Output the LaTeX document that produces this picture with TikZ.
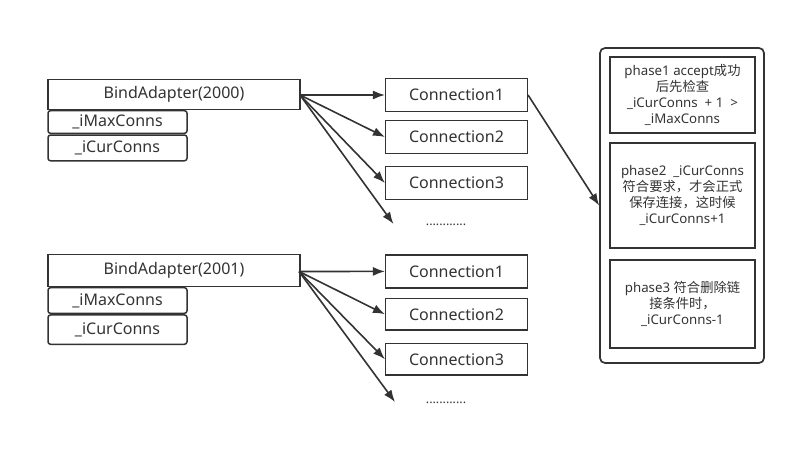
\documentclass[tikz,border=0pt]{standalone}
\usepackage{fontspec}
\setmainfont{Noto Sans}
\newfontfamily\cjk{Noto Sans CJK SC}
\usetikzlibrary{arrows.meta}
\definecolor{ink}{HTML}{333333}
\tikzset{
  cbox/.style={draw=ink, line width=1.5pt, fill=white, text=ink, inner sep=0pt, font=\fontsize{16}{18}\selectfont},
  rbox/.style={cbox, rounded corners=2.5pt},
  pbox/.style={draw=ink, line width=1.5pt, text=ink, inner sep=0pt, align=center, font=\fontsize{13.3}{16}\selectfont},
  arr/.style={draw=ink, line width=1.6pt, -{Latex[length=12pt,width=9pt]}},
  dots/.style={text=ink, inner sep=0pt, font=\fontsize{12.5}{14}\selectfont}
}
\begin{document}
\begin{tikzpicture}[x=1pt,y=-1pt]
\useasboundingbox (0,0) rectangle (797,451);
% group 1
\node[cbox, minimum width=252pt, minimum height=30pt] (ba1) at (174,94.3) {BindAdapter(2000)};
\node[rbox, minimum width=139pt, minimum height=22.6pt] (mx1) at (117.5,122) {\_iMaxConns};
\node[rbox, minimum width=139pt, minimum height=25.7pt] (cu1) at (117.5,147.9) {\_iCurConns};
\node[cbox, minimum width=141.6pt, minimum height=33.4pt] (a1) at (456.5,95) {Connection1};
\node[cbox, minimum width=141.6pt, minimum height=32.6pt] (a2) at (456.5,137) {Connection2};
\node[cbox, minimum width=141.6pt, minimum height=32.6pt] (a3) at (456.5,183) {Connection3};
\node[dots] (ad) at (446,225) {............};
\coordinate (ae) at (393.5,224);
\coordinate (as) at (300,95);
\draw[arr] (as) -- (a1.west);
\draw[arr] (as) -- (a2.west);
\draw[arr] (as) -- (a3.west);
\draw[arr] (as) -- (ae);
% group 2
\node[cbox, minimum width=252pt, minimum height=32.4pt] (ba2) at (174,270.5) {BindAdapter(2001)};
\node[rbox, minimum width=139pt, minimum height=25.6pt] (mx2) at (117.5,300.5) {\_iMaxConns};
\node[rbox, minimum width=139pt, minimum height=29.3pt] (cu2) at (117.5,329.6) {\_iCurConns};
\node[cbox, minimum width=141.6pt, minimum height=32.7pt] (b1) at (456.5,271.4) {Connection1};
\node[cbox, minimum width=141.6pt, minimum height=31.7pt] (b2) at (456.5,314.2) {Connection2};
\node[cbox, minimum width=141.6pt, minimum height=31.7pt] (b3) at (456.5,359.2) {Connection3};
\node[dots] (bd) at (446,403) {............};
\coordinate (be) at (395,402);
\coordinate (bs) at (299,271.5);
\draw[arr] (bs) -- (b1.west);
\draw[arr] (bs) -- (b2.west);
\draw[arr] (bs) -- (b3.west);
\draw[arr] (bs) -- (be);
% panel
\node[draw=ink, line width=1.7pt, rounded corners=5pt, minimum width=164pt, minimum height=315pt, inner sep=0pt] (panel) at (682,205.5) {};
\node[pbox, minimum width=145pt, minimum height=76pt] (p1) at (682.5,95) {phase1 accept{\cjk 成功}\\{\cjk 后先检查}\\\_iCurConns\ \ + 1 \ >\\\_iMaxConns};
\node[pbox, minimum width=145pt, minimum height=105pt] (p2) at (682.5,195.5) {phase2\ \ \_iCurConns\\{\cjk 符合要求，才会正式}\\{\cjk 保存连接，这时候}\\\_iCurConns+1};
\node[pbox, minimum width=145pt, minimum height=88pt] (p3) at (682.5,304) {phase3 {\cjk 符合删除链}\\{\cjk 接条件时，}\\\_iCurConns-1};
\draw[arr] (a1.east) -- (panel.west);
\end{tikzpicture}
\end{document}
